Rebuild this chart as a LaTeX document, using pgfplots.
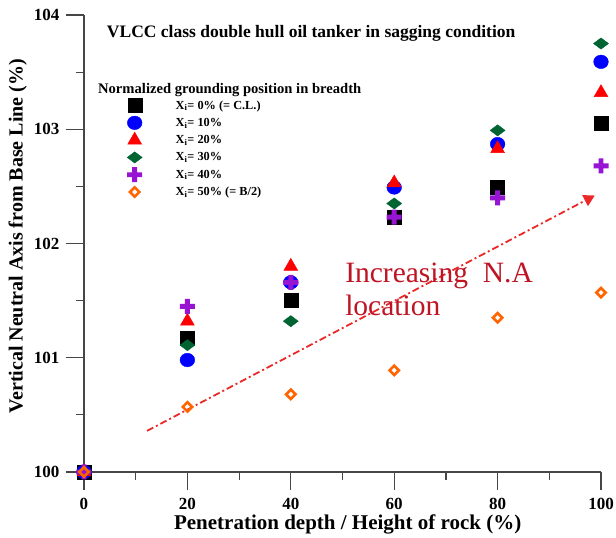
\documentclass[border=0pt]{standalone}
\usepackage{fontspec}
\setmainfont{Liberation Serif}
\usepackage{pgfplots}
\pgfplotsset{compat=1.18}
\usetikzlibrary{arrows.meta}
\definecolor{mgreen}{RGB}{0,100,50}
\definecolor{mpurple}{RGB}{150,20,210}
\definecolor{morange}{RGB}{255,100,0}
\definecolor{txtred}{RGB}{190,20,35}
\definecolor{arrred}{RGB}{235,40,40}
\definecolor{axgray}{RGB}{70,70,70}
\pgfdeclareplotmark{thickplus}{%
  \pgfpathrectangle{\pgfpoint{-\pgfplotmarksize}{-0.33\pgfplotmarksize}}{\pgfpoint{2\pgfplotmarksize}{0.66\pgfplotmarksize}}%
  \pgfpathrectangle{\pgfpoint{-0.33\pgfplotmarksize}{-\pgfplotmarksize}}{\pgfpoint{0.66\pgfplotmarksize}{2\pgfplotmarksize}}%
  \pgfusepathqfill}
\begin{document}
\begin{tikzpicture}
\begin{axis}[
  scale only axis, width=517pt, height=457pt,
  xmin=0, xmax=100, ymin=100, ymax=104,
  axis x line=bottom, axis y line=left,
  axis line style={-, axgray, line width=1.2pt},
  xtick={0,20,...,100}, ytick={100,101,102,103,104},
  minor x tick num=1, minor y tick num=1,
  tick align=outside, major tick length=18pt, minor tick length=8pt,
  tick style={axgray, line width=1.2pt},
  ticklabel style={font=\fontsize{17}{17}\selectfont\bfseries},
  xticklabel style={yshift=-5pt},
  yticklabel style={xshift=-3pt},
  /pgf/number format/assume math mode=true,
  xlabel={Penetration depth / Height of rock (\%)},
  ylabel={Vertical Neutral Axis from Base Line (\%)},
  xlabel style={font=\fontsize{21}{21}\selectfont\bfseries, at={(axis description cs:0.51,0)}, anchor=center, yshift=-52pt},
  ylabel style={font=\fontsize{20}{20}\selectfont\bfseries, at={(axis description cs:-0.128,0.516)}, anchor=center},
  clip=false,
  legend style={at={(axis cs:5.9,103.285)}, anchor=north west, draw=none, fill=none,
    font=\fontsize{12.3}{12.3}\selectfont\bfseries, row sep=0pt, column sep=0pt, inner sep=0pt,
    nodes={inner ysep=0pt, inner xsep=5pt}},
  legend cell align=left,
  legend image code/.code={\path[draw=none,fill=none] (-20pt,-8.65pt) rectangle (36pt,8.65pt); \draw[#1] plot coordinates {(0pt,0pt)};},
]
\coordinate (SW) at (rel axis cs:0,0);
\coordinate (NE) at (rel axis cs:1,1);
\addplot[only marks, black, mark=square*, mark size=7pt] coordinates {(0,100) (20,101.17) (40,101.50) (60,102.23) (80,102.49) (100,103.05)};
\addlegendentry{X\textsubscript{i}= 0\% (= C.L.)}
\addplot[only marks, blue, mark=*, mark size=6.8pt, mark options={xscale=1.08}] coordinates {(0,100) (20,100.98) (40,101.66) (60,102.49) (80,102.87) (100,103.59)};
\addlegendentry{X\textsubscript{i}= 10\%}
\addplot[only marks, red, mark=triangle*, mark size=8pt] coordinates {(0,100) (20,101.32) (40,101.80) (60,102.53) (80,102.83) (100,103.32)};
\addlegendentry{X\textsubscript{i}= 20\%}
\addplot[only marks, mgreen, mark=square*, mark size=5.3pt, mark options={yscale=0.75, rotate=45}] coordinates {(0,100) (20,101.11) (40,101.32) (60,102.35) (80,102.99) (100,103.75)};
\addlegendentry{X\textsubscript{i}= 30\%}
\addplot[only marks, mpurple, mark=thickplus, mark size=7.5pt, mark options={fill=mpurple}] coordinates {(0,100) (20,101.45) (40,101.66) (60,102.23) (80,102.40) (100,102.68)};
\addlegendentry{X\textsubscript{i}= 40\%}
\addplot[only marks, morange, mark=square, mark size=3.3pt, mark options={rotate=45, draw=morange, fill=white, line width=2.6pt}] coordinates {(0,100) (20,100.57) (40,100.68) (60,100.89) (80,101.35) (100,101.57)};
\addlegendentry{X\textsubscript{i}= 50\% (= B/2)}
\addplot[forget plot, arrred, line width=1.8pt, dash pattern=on 7pt off 3pt on 2pt off 3pt, -{Triangle[length=11pt,width=12pt]}] coordinates {(12.2,100.36) (98.8,102.42)};
\node[anchor=base west, inner sep=0pt, font=\fontsize{17.5}{17.5}\selectfont\bfseries] at (axis cs:4.4,103.80) {VLCC class double hull oil tanker in sagging condition};
\node[anchor=base west, inner sep=0pt, font=\fontsize{14.6}{14.6}\selectfont\bfseries] at (axis cs:2.7,103.31) {Normalized grounding position in breadth};
\node[anchor=base west, inner sep=0pt, font=\fontsize{29.5}{29.5}\selectfont, text=txtred] at (axis cs:50.5,101.66) {Increasing\ \ N.A};
\node[anchor=base west, inner sep=0pt, font=\fontsize{29.5}{29.5}\selectfont, text=txtred] at (axis cs:50.5,101.37) {location};
\end{axis}
\pgfresetboundingbox
\path ([xshift=-84pt,yshift=-66pt]SW) rectangle ([xshift=15pt,yshift=15pt]NE);
\end{tikzpicture}
\end{document}
